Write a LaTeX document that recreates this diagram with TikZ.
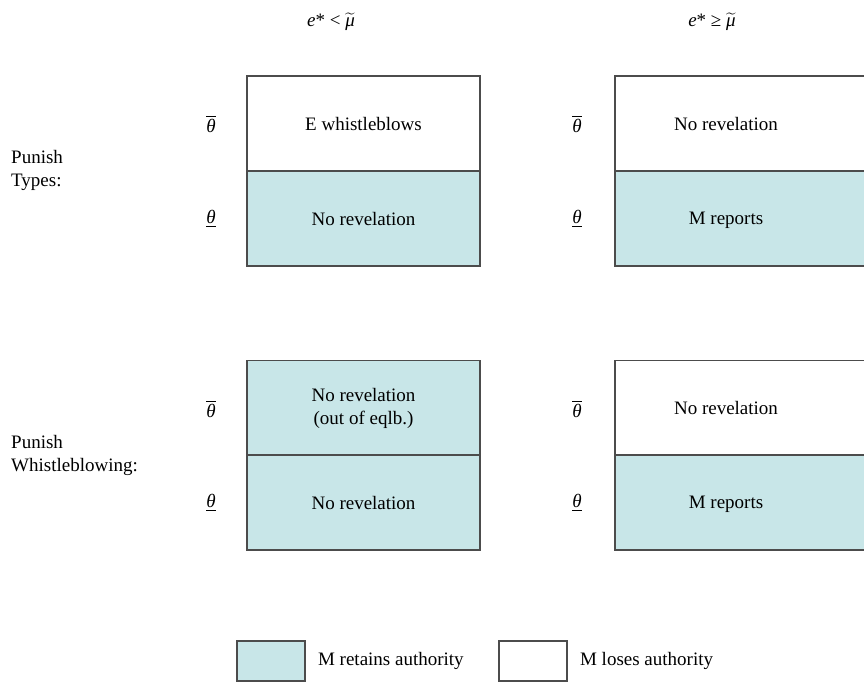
\documentclass[tikz,border=0pt]{standalone}
\usepackage{fontspec}
\usepackage{amsmath}
\setmainfont{Liberation Serif}
\usetikzlibrary{positioning}

\definecolor{keepblue}{RGB}{200,230,232}

% italic letters of the text font inside math accents
\newcommand{\tbar}{$\overline{\text{\itshape θ}}$}
\newcommand{\tlow}{$\underline{\text{\itshape θ}}$}
\newcommand{\mut}{$\widetilde{\text{\itshape μ}}$}

\begin{document}
\begin{tikzpicture}[x=1pt,y=-1pt,
                    font=\fontsize{19}{23}\selectfont,
                    cell/.style={draw=black!70,line width=1.1pt,inner sep=0pt,
                                 minimum width=233,minimum height=95},
                    wide cell/.style={cell,minimum width=265},
                    key box/.style={draw=black!70,line width=1.1pt,inner sep=0pt,
                                    minimum width=68,minimum height=40},
                    row label/.style={align=left,anchor=west,inner sep=0pt},
                    type/.style={inner sep=0pt}]

  \clip (0,0) rectangle (864,683);

  % column headings
  \node (hl) at (331,22) {\textit{e}* < \mut};
  \node (hr) at (712,22) {\textit{e}* ≥ \mut};

  % punish types
  \node[cell,fill=white] (a1) at (363.5,123.5) {E whistleblows};
  \node[cell,fill=keepblue] (a2) at (363.5,218.5) {No revelation};
  \node[wide cell,fill=white] (b1) at (747.5,123.5) {};
  \node[wide cell,fill=keepblue] (b2) at (747.5,218.5) {};
  \node (b1t) at (726,123.5) {No revelation};
  \node (b2t) at (726,220) {M reports};

  % punish whistleblowing
  \node[cell,fill=keepblue,align=center] (c1) at (363.5,408) {No revelation\\(out of eqlb.)};
  \node[cell,fill=keepblue] (c2) at (363.5,502.5) {No revelation};
  \node[wide cell,fill=white] (d1) at (747.5,408) {};
  \node[wide cell,fill=keepblue] (d2) at (747.5,502.5) {};
  \node (d1t) at (726,408) {No revelation};
  \node (d2t) at (726,504) {M reports};

  % types
  \node[type] (ta1) at (211,124) {\tbar};
  \node[type] (ta2) at (211,219) {\tlow};
  \node[type] (tb1) at (577,124) {\tbar};
  \node[type] (tb2) at (577,219) {\tlow};
  \node[type] (tc1) at (211,409) {\tbar};
  \node[type] (tc2) at (211,503) {\tlow};
  \node[type] (td1) at (577,409) {\tbar};
  \node[type] (td2) at (577,503) {\tlow};

  % rows
  \node[row label] (r1) at (11,170) {Punish\\Types:};
  \node[row label] (r2) at (11,455) {Punish\\Whistleblowing:};

  % key
  \node[key box,fill=keepblue] (k1) at (271,661) {};
  \node[right=9pt of k1] (k1t) {M retains authority};
  \node[key box,fill=white] (k2) at (533,661) {};
  \node[right=9pt of k2] (k2t) {M loses authority};
\end{tikzpicture}
\end{document}
